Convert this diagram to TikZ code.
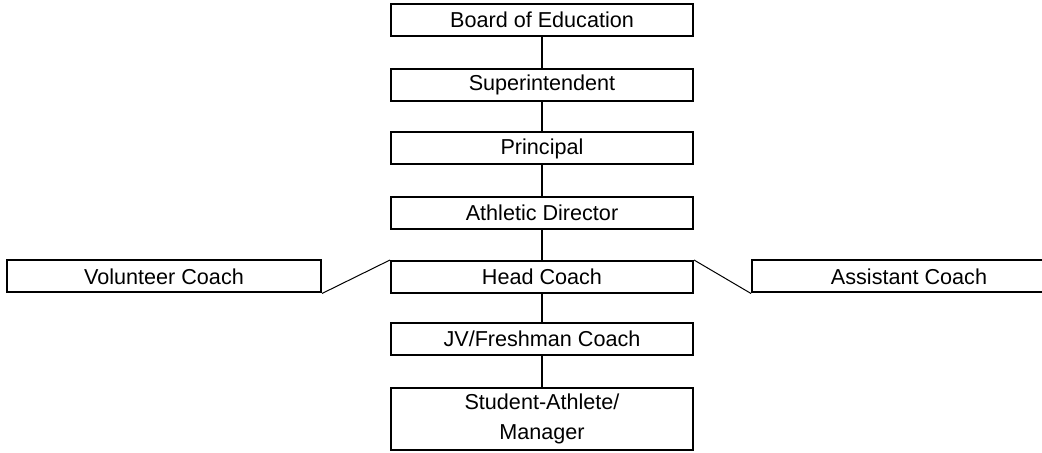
\documentclass[tikz,border=0pt]{standalone}
\usepackage{fontspec}
\setmainfont{Liberation Sans}
\usepackage{tikz}
\usetikzlibrary{calc}

\begin{document}
\begin{tikzpicture}[x=0.5pt,y=-0.5pt]
        \tikzstyle{post}=[draw, line width=1pt, minimum width=151pt, minimum height=16pt, inner sep=0pt, font=\fontsize{10.8}{15}\selectfont];
        \tikzstyle{link}=[line width=1pt];
        \tikzstyle{side link}=[line width=0.5pt];
        % Fix the size of the page
        \useasboundingbox (0,0) rectangle (1042,453);
        \clip (0,0) rectangle (1042,453);

        % Chain of posts down the middle
        \node[post] (board) at (542,20) {Board of Education};
        \node[post] (super) at (542,85) {Superintendent};
        \node[post] (principal) at (542,148.5) {Principal};
        \node[post] (athletic) at (542,213) {Athletic Director};
        \node[post] (head) at (542,277) {Head Coach};
        \node[post] (jv) at (542,339) {JV/Freshman Coach};
        \node[post, minimum height=31pt, align=center] (student) at (542,419) {Student-Athlete/\\Manager};

        % Posts beside the head coach
        \node[post, minimum width=157pt] (volunteer) at (164,276.5) {Volunteer Coach};
        \node[post, minimum width=157pt] (assistant) at (909,276.5) {Assistant Coach};

        % Draw the lines between the posts
        \draw[link] (board) -- (super);
        \draw[link] (super) -- (principal);
        \draw[link] (principal) -- (athletic);
        \draw[link] (athletic) -- (head);
        \draw[link] (head) -- (jv);
        \draw[link] (jv) -- (student);
        \draw[side link] (volunteer.south east) -- (head.north west);
        \draw[side link] (head.north east) -- (assistant.south west);
    \end{tikzpicture}
\end{document}
